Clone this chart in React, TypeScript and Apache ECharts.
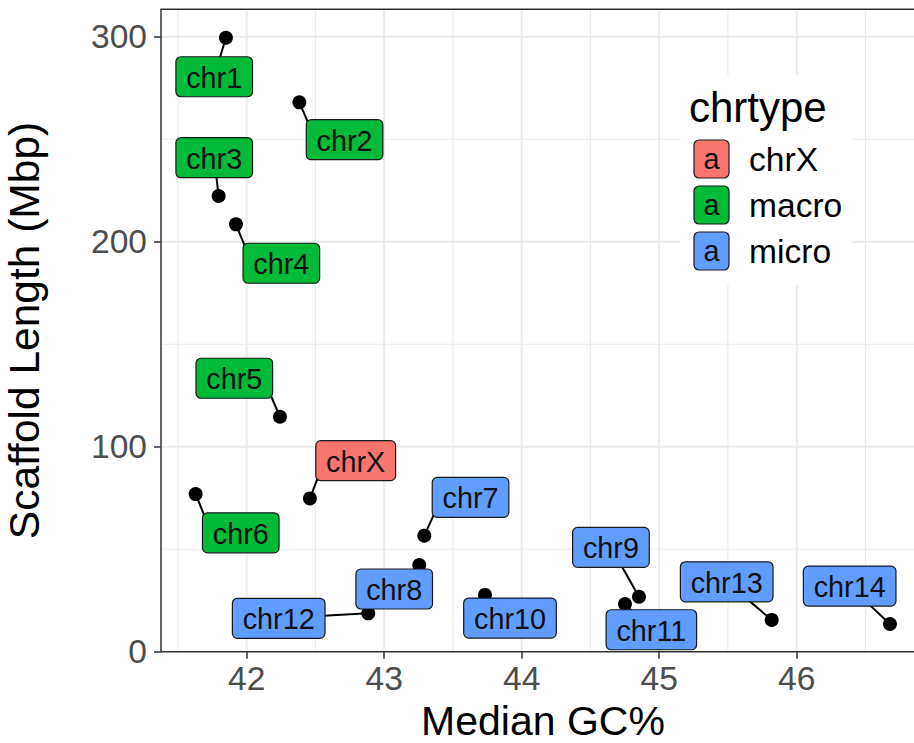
import React, { useEffect, useRef } from "react";
import * as echarts from "echarts";

// ---- data ----
const chromosomes = ["chr1", "chr2", "chr3", "chr4", "chr5", "chr6", "chrX", "chr7", "chr8", "chr9", "chr10", "chr11", "chr12", "chr13", "chr14"];
const chrTypes = ["macro", "macro", "macro", "macro", "macro", "macro", "chrX", "micro", "micro", "micro", "micro", "micro", "micro", "micro", "micro"];
const medianGC = [41.849, 42.383, 41.796, 41.922, 42.242, 41.629, 42.46, 43.292, 43.255, 44.853, 43.733, 44.751, 42.884, 45.818, 46.678];
const scaffoldMbp = [299.5, 268.0, 222.3, 208.5, 114.6, 76.9, 74.8, 56.6, 42.3, 26.8, 27.7, 23.3, 18.7, 15.5, 13.5];
// repelled label positions (data units)
const labelGC = [41.764, 42.712, 41.764, 42.252, 41.91, 41.957, 42.793, 43.628, 43.073, 44.649, 43.915, 44.943, 42.233, 45.491, 46.385];
const labelMbp = [280.5, 249.8, 241.0, 189.5, 133.4, 58.0, 93.2, 75.3, 30.6, 50.9, 16.4, 10.7, 16.3, 34.1, 32.0];

const legendTypes = ["chrX", "macro", "micro"];
const typeColors = ["#F8766D", "#00BA38", "#619CFF"];

const xTicks = [42, 43, 44, 45, 46];
const xMinor = [41.5, 42.5, 43.5, 44.5, 45.5, 46.5];
const yTicks = [0, 100, 200, 300];
const yMinor = [50, 150, 250];

const X_MIN = 41.377;
const X_MAX = 46.933;
const Y_MIN = 0;
const Y_MAX = 313.4;

const FONT = '"Liberation Sans", Arial, Helvetica, sans-serif';
const LABEL_SIZE = 28.8;
const PAD_X = 10.3;
const BOX_H = 40;

let measureCtx: CanvasRenderingContext2D | null = null;
function measure(t: string): number {
  if (!measureCtx) {
    const c = document.createElement("canvas");
    measureCtx = c.getContext("2d");
  }
  if (!measureCtx) return t.length * LABEL_SIZE * 0.5;
  measureCtx.font = `${LABEL_SIZE}px "Liberation Sans"`;
  return measureCtx.measureText(t).width;
}

export default function App() {
  const ref = useRef<HTMLDivElement>(null);

  useEffect(() => {
    if (!ref.current) return;
    const chart = echarts.init(ref.current, undefined, { renderer: "svg" });

    const gridData = [
      ...xTicks.map((v) => [v, 0, 1]),
      ...xMinor.map((v) => [v, 0, 0]),
      ...yTicks.filter((v) => v > Y_MIN).map((v) => [v, 1, 1]),
      ...yMinor.map((v) => [v, 1, 0]),
    ];

    const pointData = medianGC.map((x, i) => [x, scaffoldMbp[i]]);
    const labelData = medianGC.map((x, i) => [x, scaffoldMbp[i], labelGC[i], labelMbp[i], i]);

    const keyCenters = [159, 205, 251];
    const legendGraphics: any[] = [
      { type: "rect", shape: { x: 680, y: 75, width: 172, height: 210 }, style: { fill: "#ffffff" }, z: 100 },
      {
        type: "text",
        x: 689,
        y: 107,
        style: { text: "chrtype", font: `42px ${FONT}`, fill: "#000", verticalAlign: "middle", align: "left" },
        z: 101,
      },
    ];
    legendTypes.forEach((t, i) => {
      const cy = keyCenters[i];
      legendGraphics.push({
        type: "rect",
        shape: { x: 694, y: cy - 19, width: 35, height: 38, r: 5 },
        style: { fill: typeColors[i], stroke: "#1a1a1a", lineWidth: 1.2 },
        z: 101,
      });
      legendGraphics.push({
        type: "text",
        x: 711.5,
        y: cy,
        style: { text: "a", font: `${LABEL_SIZE}px ${FONT}`, fill: "#111", align: "center", verticalAlign: "middle" },
        z: 102,
      });
      legendGraphics.push({
        type: "text",
        x: 749,
        y: cy,
        style: { text: t, font: `33.6px ${FONT}`, fill: "#000", align: "left", verticalAlign: "middle" },
        z: 102,
      });
    });

    const option: any = {
      animation: false,
      backgroundColor: "#ffffff",
      grid: {
        left: 161,
        top: 9.3,
        width: 764,
        height: 642.4,
        show: true,
        backgroundColor: "#ffffff",
        borderColor: "#333333",
        borderWidth: 1.5,
        containLabel: false,
        outerBoundsMode: "none",
      },
      xAxis: {
        type: "value",
        min: X_MIN,
        max: X_MAX,
        splitLine: { show: false },
        axisLine: { show: false },
        axisTick: { show: true, customValues: xTicks, length: 7, lineStyle: { color: "#333333", width: 1.5 } },
        axisLabel: { customValues: xTicks, fontSize: 33.6, color: "#4d4d4d", fontFamily: FONT, margin: 10 },
        name: "Median GC%",
        nameLocation: "middle",
        nameGap: 47,
        nameTextStyle: { fontSize: 41, lineHeight: 36, color: "#000", fontFamily: FONT },
      },
      yAxis: {
        type: "value",
        min: Y_MIN,
        max: Y_MAX,
        splitLine: { show: false },
        axisLine: { show: false },
        axisTick: { show: true, customValues: yTicks, length: 7, lineStyle: { color: "#333333", width: 1.5 } },
        axisLabel: { customValues: yTicks, fontSize: 33.6, color: "#4d4d4d", fontFamily: FONT, margin: 14 },
        name: "Scaffold Length (Mbp)",
        nameLocation: "middle",
        nameGap: 115,
        nameRotate: 90,
        nameTextStyle: { fontSize: 42.5, color: "#000", fontFamily: FONT },
      },
      graphic: legendGraphics,
      series: [
        {
          type: "custom",
          name: "grid",
          silent: true,
          z: 0,
          data: gridData,
          renderItem: (params: any, api: any) => {
            const v = api.value(0);
            const orient = api.value(1);
            const major = api.value(2);
            const cs = params.coordSys;
            let shape;
            if (orient === 0) {
              const p = api.coord([v, Y_MIN]);
              shape = { x1: p[0], y1: cs.y + 1, x2: p[0], y2: cs.y + cs.height - 1 };
            } else {
              const p = api.coord([X_MIN, v]);
              shape = { x1: cs.x + 1, y1: p[1], x2: cs.x + cs.width - 1, y2: p[1] };
            }
            return {
              type: "line",
              shape,
              style: { stroke: "#ebebeb", lineWidth: major ? 2 : 1.1 },
              silent: true,
            };
          },
        },
        {
          type: "scatter",
          name: "points",
          z: 2,
          symbolSize: 14,
          itemStyle: { color: "#000000", opacity: 1 },
          data: pointData,
        },
        {
          type: "custom",
          name: "labels",
          z: 3,
          data: labelData,
          renderItem: (params: any, api: any) => {
            const p = api.coord([api.value(0), api.value(1)]);
            const c = api.coord([api.value(2), api.value(3)]);
            const i = params.dataIndex;
            const name = chromosomes[i];
            const color = typeColors[legendTypes.indexOf(chrTypes[i])];
            const w = measure(name) + 2 * PAD_X;
            const h = BOX_H;
            const x1 = c[0] - w / 2;
            const x2 = c[0] + w / 2;
            const y1 = c[1] - h / 2;
            const y2 = c[1] + h / 2;
            const inX = p[0] >= x1 && p[0] <= x2;
            const inY = p[1] >= y1 && p[1] <= y2;
            let end: number[];
            if (inX || inY) {
              end = c;
            } else {
              end = [p[0] < x1 ? x1 + 4 : x2 - 4, p[1] < y1 ? y1 + 8 : y2 - 8];
            }
            return {
              type: "group",
              children: [
                {
                  type: "line",
                  shape: { x1: p[0], y1: p[1], x2: end[0], y2: end[1] },
                  style: { stroke: "#000000", lineWidth: 2 },
                },
                {
                  type: "rect",
                  shape: { x: x1, y: y1, width: w, height: h, r: 5 },
                  style: { fill: color, stroke: "#1a1a1a", lineWidth: 1.2 },
                },
                {
                  type: "text",
                  x: c[0],
                  y: c[1] + 1,
                  style: {
                    text: name,
                    font: `${LABEL_SIZE}px ${FONT}`,
                    fill: "#111111",
                    align: "center",
                    verticalAlign: "middle",
                  },
                },
              ],
            };
          },
        },
      ],
    };

    chart.setOption(option);
    return () => {
      chart.dispose();
    };
  }, []);

  return (
    <div
      ref={ref}
      style={{ position: "absolute", left: 0, top: 0, width: 914, height: 743, background: "#fff" }}
    />
  );
}
